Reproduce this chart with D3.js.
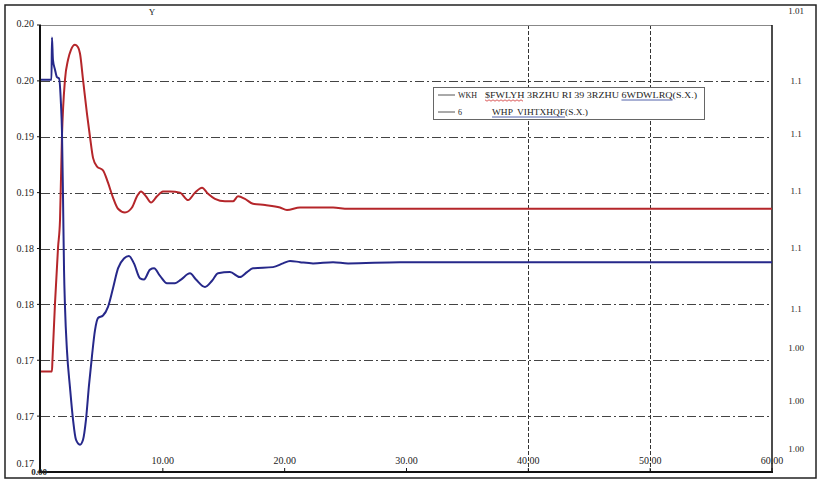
<!DOCTYPE html>
<html>
<head>
<meta charset="utf-8">
<script src="https://cdn.jsdelivr.net/npm/d3@7"></script>
<style>
  body { margin: 0; background: #fff; }
  svg { display: block; }
  text { font-family: "Liberation Serif", "DejaVu Serif", serif; fill: #222; white-space: pre; }
</style>
</head>
<body>
<svg id="chart" width="820" height="481"></svg>
<script>
// Active power of the PV station (p.u.) against time (s)
const activePowerTime = [0, 0.90, 0.94, 1.15, 1.40, 1.56, 1.72, 1.97, 2.22, 2.46, 2.79, 3.04, 3.20, 3.45, 3.78, 4.02, 4.27, 4.60, 5.09, 5.50, 5.91, 6.32, 6.89, 7.47, 7.88, 8.21, 8.62, 9.03, 9.52, 10.01, 10.59, 11.41, 12.07, 12.64, 13.22, 13.71, 14.28, 15.10, 15.76, 16.17, 16.74, 17.40, 18.39, 19.62, 20.19, 21.26, 22.49, 23.97, 25.20, 30, 40, 50, 60];
const activePower = [0.1733, 0.1733, 0.1742, 0.1788, 0.1833, 0.1855, 0.1922, 0.1968, 0.1984, 0.1992, 0.1996, 0.1994, 0.1989, 0.1968, 0.1940, 0.1922, 0.1905, 0.1898, 0.1895, 0.1885, 0.1873, 0.1864, 0.1861, 0.1865, 0.1874, 0.1878, 0.1874, 0.1869, 0.1874, 0.1878, 0.1878, 0.1877, 0.1871, 0.1877, 0.1881, 0.1876, 0.1872, 0.1870, 0.1870, 0.1874, 0.1872, 0.1868, 0.1867, 0.1865, 0.1863, 0.1865, 0.1865, 0.1865, 0.1864, 0.1864, 0.1864, 0.1864, 0.1864];

// System frequency (p.u.) against time (s)
const frequencyTime = [0, 0.86, 0.90, 0.98, 1.15, 1.31, 1.48, 1.64, 1.72, 1.81, 1.89, 1.97, 2.13, 2.38, 2.63, 2.87, 3.20, 3.45, 3.69, 3.94, 4.19, 4.43, 4.68, 5.09, 5.50, 5.91, 6.32, 6.81, 7.22, 7.63, 8.13, 8.45, 8.95, 9.28, 9.77, 10.34, 11.00, 11.49, 12.23, 12.72, 13.46, 14.04, 14.53, 15.51, 16.33, 16.91, 17.40, 19.04, 19.86, 20.44, 21.26, 22.33, 23.97, 25.20, 29.47, 40, 50, 60];
const frequency = [0.1968, 0.1968, 0.2002, 0.1984, 0.1976, 0.1970, 0.1969, 0.1948, 0.1927, 0.1871, 0.1815, 0.1785, 0.1750, 0.1720, 0.1694, 0.1678, 0.1674, 0.1678, 0.1694, 0.1722, 0.1746, 0.1766, 0.1776, 0.1778, 0.1785, 0.1800, 0.1816, 0.1824, 0.1826, 0.1820, 0.1808, 0.1807, 0.1815, 0.1816, 0.1810, 0.1804, 0.1804, 0.1807, 0.1812, 0.1807, 0.1801, 0.1806, 0.1812, 0.1813, 0.1809, 0.1813, 0.1816, 0.1817, 0.1820, 0.1822, 0.1821, 0.1820, 0.1821, 0.1820, 0.1821, 0.1821, 0.1821, 0.1821];

// Axis ticks
const xTicks = [10, 20, 30, 40, 50, 60];
const xGridTicks = [40, 50];
const leftTicks = [0.1652, 0.1697, 0.1742, 0.1787, 0.1832, 0.1877, 0.1922, 0.1967, 0.2012];
const rightTicks = [1.0100, 1.0084, 1.0072, 1.0059, 1.0046, 1.0032, 1.0023, 1.0011, 1.0000];
const rightTickLabels = ["1.01", "1.1", "1.1", "1.1", "1.1", "1.1", "1.00", "1.00", "1.00"];

// Legend entries
const legendKeys = ["WKH", "6"];
const legendTexts = ["$FWLYH 3RZHU RI 39 3RZHU 6WDWLRQ(S.X.)", "WHP  VIHTXHQF(S.X.)"];

const svg = d3.select("#chart");
const plotLeft = 41, plotRight = 772, plotTop = 25, plotBottom = 472;

const x = d3.scaleLinear().domain([0, 60]).range([plotLeft, plotRight]);
const y = d3.scaleLinear().domain([0.1652, 0.2012]).range([plotBottom, plotTop]);
const yRight = d3.scaleLinear().domain([1.000, 1.010]).range([449, 11]);

// outer frame
svg.append("rect").attr("x", 5).attr("y", 5).attr("width", 811).attr("height", 473)
  .attr("fill", "none").attr("stroke", "#222").attr("stroke-width", 1.5);

// horizontal dash-dot grid
svg.append("g").selectAll("line").data(leftTicks.slice(1, -1)).join("line")
  .attr("x1", plotLeft).attr("x2", plotRight)
  .attr("y1", d => Math.round(y(d)) + 0.5).attr("y2", d => Math.round(y(d)) + 0.5)
  .attr("stroke", "#444").attr("stroke-width", 1).attr("stroke-dasharray", "9,3,2,3");

// vertical dashed grid
svg.append("g").selectAll("line").data(xGridTicks).join("line")
  .attr("x1", d => Math.round(x(d)) + 0.5).attr("x2", d => Math.round(x(d)) + 0.5)
  .attr("y1", plotTop).attr("y2", plotBottom)
  .attr("stroke", "#333").attr("stroke-width", 1).attr("stroke-dasharray", "4,2");

// plot frame
svg.append("line").attr("x1", plotLeft).attr("x2", plotRight).attr("y1", plotTop + 0.5).attr("y2", plotTop + 0.5)
  .attr("stroke", "#888").attr("stroke-width", 1);
svg.append("line").attr("x1", plotRight).attr("x2", plotRight).attr("y1", plotTop).attr("y2", plotBottom)
  .attr("stroke", "#111").attr("stroke-width", 1.5);

// series
const line = d3.line().x(d => x(d[0])).y(d => y(d[1])).curve(d3.curveMonotoneX);
svg.append("path").datum(d3.zip(activePowerTime, activePower))
  .attr("d", line).attr("fill", "none").attr("stroke", "#b5262a").attr("stroke-width", 2)
  .attr("stroke-linejoin", "round");
svg.append("path").datum(d3.zip(frequencyTime, frequency))
  .attr("d", line).attr("fill", "none").attr("stroke", "#26288a").attr("stroke-width", 2)
  .attr("stroke-linejoin", "round");

// left and bottom axes
svg.append("line").attr("x1", plotLeft - 1).attr("x2", plotLeft - 1).attr("y1", plotTop).attr("y2", plotBottom)
  .attr("stroke", "#111").attr("stroke-width", 2);
svg.append("line").attr("x1", plotLeft - 2).attr("x2", plotRight + 1).attr("y1", plotBottom).attr("y2", plotBottom)
  .attr("stroke", "#111").attr("stroke-width", 2);

// left ticks and labels
const fmt = d3.format(".2f");
svg.append("g").selectAll("line").data(leftTicks).join("line")
  .attr("x1", plotLeft - 4).attr("x2", plotLeft).attr("y1", d => y(d)).attr("y2", d => y(d))
  .attr("stroke", "#111");
svg.append("g").selectAll("text").data(leftTicks).join("text")
  .attr("x", 34).attr("y", (d, i) => y(d) + (i === 0 ? -9 : (i === leftTicks.length - 1 ? -2 : 0)))
  .attr("dy", "0.35em").attr("text-anchor", "end").attr("font-size", 10)
  .text(d => fmt(d));

// bottom ticks and labels
svg.append("g").selectAll("line").data(xTicks).join("line")
  .attr("x1", d => x(d)).attr("x2", d => x(d)).attr("y1", plotBottom - 4).attr("y2", plotBottom)
  .attr("stroke", "#111");
svg.append("g").selectAll("text").data(xTicks).join("text")
  .attr("x", d => x(d)).attr("y", plotBottom - 8).attr("text-anchor", "middle").attr("font-size", 10)
  .text(d => fmt(d));
svg.append("text").attr("x", x(0) - 2).attr("y", plotBottom + 3).attr("text-anchor", "middle")
  .attr("font-size", 9).attr("font-weight", "bold").text(fmt(0));

// right labels
svg.append("g").selectAll("text").data(rightTicks).join("text")
  .attr("x", 796).attr("y", d => yRight(d)).attr("dy", "0.35em").attr("text-anchor", "middle")
  .attr("font-size", 9).text((d, i) => rightTickLabels[i]);

// axis title glyph
svg.append("text").attr("x", 152).attr("y", 15).attr("text-anchor", "middle")
  .attr("font-size", 9).text("Y");

// legend
const lg = svg.append("g");
lg.append("rect").attr("x", 433.5).attr("y", 87.5).attr("width", 271).attr("height", 32)
  .attr("fill", "#fff").attr("stroke", "#666").attr("stroke-width", 1);
const rowY = [95, 112];
legendKeys.forEach((k, i) => {
  lg.append("line").attr("x1", 438).attr("x2", 455).attr("y1", rowY[i]).attr("y2", rowY[i])
    .attr("stroke", "#555").attr("stroke-width", 1);
  lg.append("text").attr("x", 458).attr("y", rowY[i] + 3).attr("font-size", 8).text(k);
});
const t1 = lg.append("text").attr("x", 485).attr("y", rowY[0] + 3).attr("font-size", 9)
  .attr("textLength", 212).attr("lengthAdjust", "spacingAndGlyphs").text(legendTexts[0]);
const t2 = lg.append("text").attr("x", 492).attr("y", rowY[1] + 3).attr("font-size", 9)
  .attr("textLength", 96).attr("lengthAdjust", "spacingAndGlyphs").text(legendTexts[1]);

function span(node, a, b) {
  const n = node.node();
  return [n.getStartPositionOfChar(a).x, n.getEndPositionOfChar(b - 1).x];
}
// red squiggle under the first word
const s1 = span(t1, 0, 6);
const wave = [];
for (let px = s1[0], k = 0; px <= s1[1]; px += 2, k++) wave.push([px, rowY[0] + 5 + (k % 2 ? 1.2 : -0.2)]);
lg.append("path").attr("d", d3.line()(wave)).attr("fill", "none").attr("stroke", "#d03030").attr("stroke-width", 0.8);
// blue underlines
const s2 = span(t1, legendTexts[0].indexOf("6WD"), legendTexts[0].indexOf("("));
lg.append("line").attr("x1", s2[0]).attr("x2", s2[1]).attr("y1", rowY[0] + 5).attr("y2", rowY[0] + 5)
  .attr("stroke", "#4050a0").attr("stroke-width", 0.9);
const s3 = span(t2, 0, legendTexts[1].indexOf("("));
lg.append("line").attr("x1", s3[0]).attr("x2", s3[1]).attr("y1", rowY[1] + 5).attr("y2", rowY[1] + 5)
  .attr("stroke", "#4050a0").attr("stroke-width", 0.9);
</script>
</body>
</html>
